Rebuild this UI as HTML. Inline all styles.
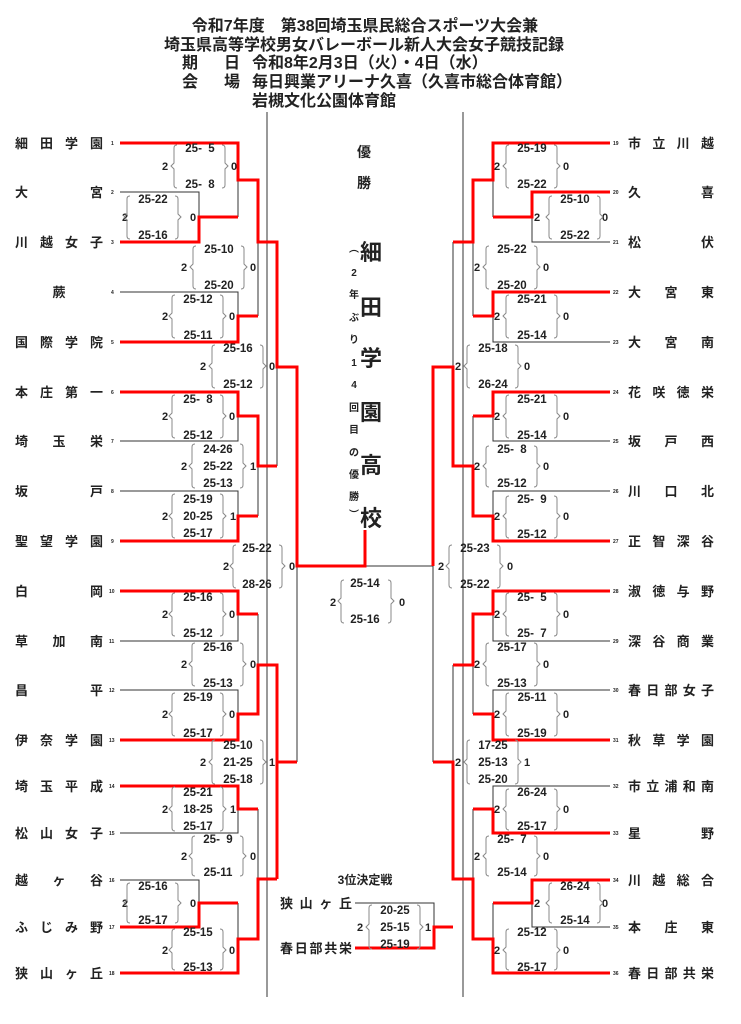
<!DOCTYPE html>
<html><head><meta charset="utf-8"><style>
html,body{margin:0;padding:0;background:#fff}
svg{display:block}
text{font-family:"Liberation Sans","Noto Sans CJK JP",sans-serif;font-weight:bold;fill:#222}
.s{font-size:11.5px;text-anchor:middle;white-space:pre}
.n{font-size:11px;text-anchor:middle}
.t{font-size:13px}
.sm{font-size:5px;fill:#444}
.h{font-size:16px}
.g{stroke:#333;stroke-width:1;fill:none}
.r{stroke:#f00;stroke-width:3;fill:none}
.b{stroke:#888;stroke-width:1;fill:none}
</style></head><body>
<svg width="741" height="1024" viewBox="0 0 741 1024" xmlns="http://www.w3.org/2000/svg">
<!-- header -->
<text class="h" x="365" y="31" text-anchor="middle">令和7年度　第38回埼玉県民総合スポーツ大会兼</text>
<text class="h" x="364" y="50" text-anchor="middle">埼玉県高等学校男女バレーボール新人大会女子競技記録</text>
<text class="h" x="182" y="68">期</text><text class="h" x="224" y="68">日</text>
<text class="h" x="252" y="68">令和8年2月3日（火）・4日（水）</text>
<text class="h" x="182" y="87">会</text><text class="h" x="224" y="87">場</text>
<text class="h" x="252" y="87">毎日興業アリーナ久喜（久喜市総合体育館）</text>
<text class="h" x="252" y="106">岩槻文化公園体育館</text>

<!-- borders -->
<line class="g" x1="267" y1="112" x2="267" y2="997"/>
<line class="g" x1="463" y1="112" x2="463" y2="997"/>

<!-- gray lines left -->
<polyline class="g" points="120,192 199,192 199,242"/>
<polyline class="g" points="120,292 238,292 238,342"/>
<polyline class="g" points="120,441 238,441 238,392"/>
<polyline class="g" points="120,491 238,491 238,541"/>
<polyline class="g" points="120,641 238,641 238,591"/>
<polyline class="g" points="120,690 238,690 238,740"/>
<polyline class="g" points="120,833 238,833 238,786"/>
<polyline class="g" points="120,880 199,880 199,927"/>
<line class="g" x1="238" y1="143" x2="238" y2="217"/>
<line class="g" x1="238" y1="903" x2="238" y2="973"/>
<line class="g" x1="258" y1="180" x2="258" y2="316"/>
<line class="g" x1="258" y1="416" x2="258" y2="516"/>
<line class="g" x1="258" y1="614" x2="258" y2="714"/>
<line class="g" x1="258" y1="809" x2="258" y2="939"/>
<line class="g" x1="277" y1="242" x2="277" y2="466"/>
<line class="g" x1="277" y1="665" x2="277" y2="879"/>
<line class="g" x1="297" y1="367" x2="297" y2="762"/>
<line class="g" x1="297" y1="566" x2="433" y2="566"/>
<!-- gray lines right -->
<polyline class="g" points="610,242 532,242 532,192"/>
<polyline class="g" points="610,342 493,342 493,292"/>
<polyline class="g" points="610,441 493,441 493,392"/>
<polyline class="g" points="610,491 493,491 493,541"/>
<polyline class="g" points="610,641 493,641 493,591"/>
<polyline class="g" points="610,690 493,690 493,740"/>
<polyline class="g" points="610,786 493,786 493,833"/>
<polyline class="g" points="610,927 532,927 532,880"/>
<line class="g" x1="493" y1="143" x2="493" y2="217"/>
<line class="g" x1="493" y1="903" x2="493" y2="973"/>
<line class="g" x1="473" y1="180" x2="473" y2="316"/>
<line class="g" x1="473" y1="416" x2="473" y2="516"/>
<line class="g" x1="473" y1="614" x2="473" y2="714"/>
<line class="g" x1="473" y1="809" x2="473" y2="939"/>
<line class="g" x1="453" y1="242" x2="453" y2="466"/>
<line class="g" x1="453" y1="665" x2="453" y2="879"/>
<line class="g" x1="433" y1="367" x2="433" y2="762"/>
<!-- third place gray -->
<polyline class="g" points="355,903 434,903 434,927"/>

<!-- red left -->
<polyline class="r" points="120,143 238,143 238,180 258,180 258,242 277,242 277,367 297,367 297,566 365,566 365,530"/>
<polyline class="r" points="120,242 199,242 199,217 238,217"/>
<polyline class="r" points="120,342 238,342 238,316 258,316"/>
<polyline class="r" points="120,392 238,392 238,416 258,416 258,466 277,466"/>
<polyline class="r" points="120,541 238,541 238,516 258,516"/>
<polyline class="r" points="120,591 238,591 238,614 258,614"/>
<polyline class="r" points="120,740 238,740 238,714 258,714 258,665 277,665 277,879"/>
<polyline class="r" points="277,762 297,762"/>
<polyline class="r" points="120,786 238,786 238,809 258,809"/>
<polyline class="r" points="120,927 199,927 199,903 238,903"/>
<polyline class="r" points="120,973 238,973 238,939 258,939 258,879 277,879"/>
<!-- red right -->
<polyline class="r" points="610,143 493,143 493,180 473,180 473,242 453,242"/>
<polyline class="r" points="610,192 532,192 532,217 493,217"/>
<polyline class="r" points="610,292 493,292 493,316 473,316"/>
<polyline class="r" points="610,392 493,392 493,416 473,416"/>
<polyline class="r" points="610,541 493,541 493,516 473,516 473,466 453,466 453,367 433,367 433,566"/>
<polyline class="r" points="610,591 493,591 493,614 473,614 473,665 453,665"/>
<polyline class="r" points="610,740 493,740 493,714 473,714"/>
<polyline class="r" points="610,833 493,833 493,809 473,809"/>
<polyline class="r" points="610,880 532,880 532,903 493,903"/>
<polyline class="r" points="610,973 493,973 493,939 473,939 473,879 453,879 453,762 433,762"/>
<polyline class="r" points="355,948 434,948 434,927 453,927"/>

<!-- left names -->
<g class="t">
<text x="15" y="148" textLength="88" lengthAdjust="spacing">細田学園</text>
<text x="15" y="197" textLength="88" lengthAdjust="spacing">大宮</text>
<text x="15" y="247" textLength="88" lengthAdjust="spacing">川越女子</text>
<text x="59" y="297" text-anchor="middle">蕨</text>
<text x="15" y="347" textLength="88" lengthAdjust="spacing">国際学院</text>
<text x="15" y="397" textLength="88" lengthAdjust="spacing">本庄第一</text>
<text x="15" y="446" textLength="88" lengthAdjust="spacing">埼玉栄</text>
<text x="15" y="496" textLength="88" lengthAdjust="spacing">坂戸</text>
<text x="15" y="546" textLength="88" lengthAdjust="spacing">聖望学園</text>
<text x="15" y="596" textLength="88" lengthAdjust="spacing">白岡</text>
<text x="15" y="646" textLength="88" lengthAdjust="spacing">草加南</text>
<text x="15" y="695" textLength="88" lengthAdjust="spacing">昌平</text>
<text x="15" y="745" textLength="88" lengthAdjust="spacing">伊奈学園</text>
<text x="15" y="791" textLength="88" lengthAdjust="spacing">埼玉平成</text>
<text x="15" y="838" textLength="88" lengthAdjust="spacing">松山女子</text>
<text x="15" y="885" textLength="88" lengthAdjust="spacing">越ヶ谷</text>
<text x="15" y="932" textLength="88" lengthAdjust="spacing">ふじみ野</text>
<text x="15" y="978" textLength="88" lengthAdjust="spacing">狭山ヶ丘</text>
</g>
<!-- right names -->
<g class="t">
<text x="628" y="148" textLength="86" lengthAdjust="spacing">市立川越</text>
<text x="628" y="197" textLength="86" lengthAdjust="spacing">久喜</text>
<text x="628" y="247" textLength="86" lengthAdjust="spacing">松伏</text>
<text x="628" y="297" textLength="86" lengthAdjust="spacing">大宮東</text>
<text x="628" y="347" textLength="86" lengthAdjust="spacing">大宮南</text>
<text x="628" y="397" textLength="86" lengthAdjust="spacing">花咲徳栄</text>
<text x="628" y="446" textLength="86" lengthAdjust="spacing">坂戸西</text>
<text x="628" y="496" textLength="86" lengthAdjust="spacing">川口北</text>
<text x="628" y="546" textLength="86" lengthAdjust="spacing">正智深谷</text>
<text x="628" y="596" textLength="86" lengthAdjust="spacing">淑徳与野</text>
<text x="628" y="646" textLength="86" lengthAdjust="spacing">深谷商業</text>
<text x="628" y="695" textLength="86" lengthAdjust="spacing">春日部女子</text>
<text x="628" y="745" textLength="86" lengthAdjust="spacing">秋草学園</text>
<text x="628" y="791" textLength="86" lengthAdjust="spacing">市立浦和南</text>
<text x="628" y="838" textLength="86" lengthAdjust="spacing">星野</text>
<text x="628" y="885" textLength="86" lengthAdjust="spacing">川越総合</text>
<text x="628" y="932" textLength="86" lengthAdjust="spacing">本庄東</text>
<text x="628" y="978" textLength="86" lengthAdjust="spacing">春日部共栄</text>
</g>
<!-- small seed numbers -->
<g class="sm">
<text x="111" y="145">1</text><text x="111" y="194">2</text><text x="111" y="244">3</text><text x="111" y="294">4</text><text x="111" y="344">5</text><text x="111" y="394">6</text><text x="111" y="443">7</text><text x="111" y="493">8</text><text x="111" y="543">9</text><text x="109" y="593">10</text><text x="109" y="643">11</text><text x="109" y="692">12</text><text x="109" y="742">13</text><text x="109" y="788">14</text><text x="109" y="835">15</text><text x="109" y="882">16</text><text x="109" y="929">17</text><text x="109" y="975">18</text>
<text x="613" y="145">19</text><text x="613" y="194">20</text><text x="613" y="244">21</text><text x="613" y="294">22</text><text x="613" y="344">23</text><text x="613" y="394">24</text><text x="613" y="443">25</text><text x="613" y="493">26</text><text x="613" y="543">27</text><text x="613" y="593">28</text><text x="613" y="643">29</text><text x="613" y="692">30</text><text x="613" y="742">31</text><text x="613" y="788">32</text><text x="613" y="835">33</text><text x="613" y="882">34</text><text x="613" y="929">35</text><text x="613" y="975">36</text>
</g>

<!-- center -->
<text x="364" y="157" font-size="14" text-anchor="middle">優</text>
<text x="364" y="188" font-size="14" text-anchor="middle">勝</text>
<g font-size="22" text-anchor="middle">
<text x="371" y="260">細</text><text x="371" y="315">田</text><text x="371" y="366">学</text><text x="371" y="420">園</text><text x="371" y="473">高</text><text x="371" y="526">校</text>
</g>
<g font-size="10" text-anchor="middle">
<text x="354" y="252">︵</text><text x="354" y="276">2</text><text x="354" y="298">年</text><text x="354" y="321">ぶ</text><text x="354" y="343">り</text><text x="354" y="366">1</text><text x="354" y="388">4</text><text x="354" y="411">回</text><text x="354" y="433">目</text><text x="354" y="456">の</text><text x="354" y="478">優</text><text x="354" y="500">勝</text><text x="354" y="518">︶</text>
</g>
<text x="365" y="884" font-size="12" text-anchor="middle">3位決定戦</text>
<text class="t" x="280" y="908" textLength="72" lengthAdjust="spacing">狭山ヶ丘</text>
<text class="t" x="280" y="953" textLength="72" lengthAdjust="spacing">春日部共栄</text>

<g id="scores">
<!-- LEFT -->
<text class="s" x="200" y="152">25-  5</text><text class="s" x="200" y="188">25-  8</text><text class="n" x="165" y="170">2</text><text class="n" x="234" y="170">0</text>
<path class="b" d="M177 145Q174 145 174 148L174 163L171 166L174 169L174 185Q174 188 177 188M222 145Q225 145 225 148L225 163L228 166L225 169L225 185Q225 188 222 188"/>
<text class="s" x="153" y="203">25-22</text><text class="s" x="153" y="239">25-16</text><text class="n" x="125" y="221">2</text><text class="n" x="193" y="221">0</text>
<path class="b" d="M130 196Q127 196 127 199L127 214L124 217L127 220L127 236Q127 239 130 239M175 196Q178 196 178 199L178 214L181 217L178 220L178 236Q178 239 175 239"/>
<text class="s" x="219" y="253">25-10</text><text class="s" x="219" y="289">25-20</text><text class="n" x="184" y="271">2</text><text class="n" x="253" y="271">0</text>
<path class="b" d="M196 246Q193 246 193 249L193 264L190 267L193 270L193 286Q193 289 196 289M241 246Q244 246 244 249L244 264L247 267L244 270L244 286Q244 289 241 289"/>
<text class="s" x="198" y="303">25-12</text><text class="s" x="198" y="339">25-11</text><text class="n" x="165" y="320">2</text><text class="n" x="232" y="320">0</text>
<path class="b" d="M175 295Q172 295 172 298L172 313L169 316L172 319L172 335Q172 338 175 338M220 295Q223 295 223 298L223 313L226 316L223 319L223 335Q223 338 220 338"/>
<text class="s" x="238" y="352">25-16</text><text class="s" x="238" y="388">25-12</text><text class="n" x="203" y="370">2</text><text class="n" x="272" y="370">0</text>
<path class="b" d="M215 345Q212 345 212 348L212 363L209 366L212 369L212 385Q212 388 215 388M260 345Q263 345 263 348L263 363L266 366L263 369L263 385Q263 388 260 388"/>
<text class="s" x="198" y="403">25-  8</text><text class="s" x="198" y="439">25-12</text><text class="n" x="165" y="420">2</text><text class="n" x="232" y="420">0</text>
<path class="b" d="M175 395Q172 395 172 398L172 413L169 416L172 419L172 435Q172 438 175 438M220 395Q223 395 223 398L223 413L226 416L223 419L223 435Q223 438 220 438"/>
<text class="s" x="218" y="453">24-26</text><text class="s" x="218" y="470">25-22</text><text class="s" x="218" y="487">25-13</text><text class="n" x="184" y="470">2</text><text class="n" x="253" y="470">1</text>
<path class="b" d="M195 444Q192 444 192 447L192 463L189 466L192 469L192 485Q192 488 195 488M240 444Q243 444 243 447L243 463L246 466L243 469L243 485Q243 488 240 488"/>
<text class="s" x="198" y="503">25-19</text><text class="s" x="198" y="520">20-25</text><text class="s" x="198" y="537">25-17</text><text class="n" x="165" y="520">2</text><text class="n" x="233" y="520">1</text>
<path class="b" d="M175 494Q172 494 172 497L172 513L169 516L172 519L172 535Q172 538 175 538M220 494Q223 494 223 497L223 513L226 516L223 519L223 535Q223 538 220 538"/>
<text class="s" x="257" y="552">25-22</text><text class="s" x="257" y="588">28-26</text><text class="n" x="226" y="570">2</text><text class="n" x="292" y="570">0</text>
<path class="b" d="M236 545Q233 545 233 548L233 563L230 566L233 569L233 585Q233 588 236 588M279 545Q282 545 282 548L282 563L285 566L282 569L282 585Q282 588 279 588"/>
<text class="s" x="198" y="601">25-16</text><text class="s" x="198" y="637">25-12</text><text class="n" x="165" y="618">2</text><text class="n" x="232" y="618">0</text>
<path class="b" d="M175 593Q172 593 172 596L172 611L169 614L172 617L172 633Q172 636 175 636M220 593Q223 593 223 596L223 611L226 614L223 617L223 633Q223 636 220 636"/>
<text class="s" x="218" y="651">25-16</text><text class="s" x="218" y="687">25-13</text><text class="n" x="184" y="668">2</text><text class="n" x="253" y="668">0</text>
<path class="b" d="M195 643Q192 643 192 646L192 661L189 664L192 667L192 683Q192 686 195 686M240 643Q243 643 243 646L243 661L246 664L243 667L243 683Q243 686 240 686"/>
<text class="s" x="198" y="701">25-19</text><text class="s" x="198" y="737">25-17</text><text class="n" x="165" y="718">2</text><text class="n" x="232" y="718">0</text>
<path class="b" d="M175 693Q172 693 172 696L172 711L169 714L172 717L172 733Q172 736 175 736M220 693Q223 693 223 696L223 711L226 714L223 717L223 733Q223 736 220 736"/>
<text class="s" x="238" y="749">25-10</text><text class="s" x="238" y="766">21-25</text><text class="s" x="238" y="783">25-18</text><text class="n" x="203" y="766">2</text><text class="n" x="272" y="766">1</text>
<path class="b" d="M215 740Q212 740 212 743L212 759L209 762L212 765L212 781Q212 784 215 784M260 740Q263 740 263 743L263 759L266 762L263 765L263 781Q263 784 260 784"/>
<text class="s" x="198" y="796">25-21</text><text class="s" x="198" y="813">18-25</text><text class="s" x="198" y="830">25-17</text><text class="n" x="165" y="813">2</text><text class="n" x="233" y="813">1</text>
<path class="b" d="M175 787Q172 787 172 790L172 806L169 809L172 812L172 828Q172 831 175 831M220 787Q223 787 223 790L223 806L226 809L223 812L223 828Q223 831 220 831"/>
<text class="s" x="218" y="843">25-  9</text><text class="s" x="218" y="876">25-11</text><text class="n" x="184" y="860">2</text><text class="n" x="253" y="860">0</text>
<path class="b" d="M195 836Q192 836 192 839L192 853L189 856L192 859L192 873Q192 876 195 876M240 836Q243 836 243 839L243 853L246 856L243 859L243 873Q243 876 240 876"/>
<text class="s" x="153" y="890">25-16</text><text class="s" x="153" y="924">25-17</text><text class="n" x="125" y="907">2</text><text class="n" x="193" y="907">0</text>
<path class="b" d="M130 883Q127 883 127 886L127 900L124 903L127 906L127 920Q127 923 130 923M175 883Q178 883 178 886L178 900L181 903L178 906L178 920Q178 923 175 923"/>
<text class="s" x="198" y="936">25-15</text><text class="s" x="198" y="971">25-13</text><text class="n" x="165" y="954">2</text><text class="n" x="232" y="954">0</text>
<path class="b" d="M175 929Q172 929 172 932L172 947L169 950L172 953L172 967Q172 970 175 970M220 929Q223 929 223 932L223 947L226 950L223 953L223 967Q223 970 220 970"/>

<!-- RIGHT -->
<text class="s" x="532" y="152">25-19</text><text class="s" x="532" y="188">25-22</text><text class="n" x="497" y="170">2</text><text class="n" x="566" y="170">0</text>
<path class="b" d="M509 145Q506 145 506 148L506 163L503 166L506 169L506 185Q506 188 509 188M554 145Q557 145 557 148L557 163L560 166L557 169L557 185Q557 188 554 188"/>
<text class="s" x="575" y="203">25-10</text><text class="s" x="575" y="239">25-22</text><text class="n" x="537" y="221">2</text><text class="n" x="605" y="221">0</text>
<path class="b" d="M552 196Q549 196 549 199L549 214L546 217L549 220L549 236Q549 239 552 239M597 196Q600 196 600 199L600 214L603 217L600 220L600 236Q600 239 597 239"/>
<text class="s" x="512" y="253">25-22</text><text class="s" x="512" y="289">25-20</text><text class="n" x="477" y="271">2</text><text class="n" x="546" y="271">0</text>
<path class="b" d="M489 246Q486 246 486 249L486 264L483 267L486 270L486 286Q486 289 489 289M534 246Q537 246 537 249L537 264L540 267L537 270L537 286Q537 289 534 289"/>
<text class="s" x="532" y="303">25-21</text><text class="s" x="532" y="339">25-14</text><text class="n" x="497" y="320">2</text><text class="n" x="566" y="320">0</text>
<path class="b" d="M509 295Q506 295 506 298L506 313L503 316L506 319L506 335Q506 338 509 338M554 295Q557 295 557 298L557 313L560 316L557 319L557 335Q557 338 554 338"/>
<text class="s" x="493" y="352">25-18</text><text class="s" x="493" y="388">26-24</text><text class="n" x="458" y="370">2</text><text class="n" x="527" y="370">0</text>
<path class="b" d="M470 345Q467 345 467 348L467 363L464 366L467 369L467 385Q467 388 470 388M515 345Q518 345 518 348L518 363L521 366L518 369L518 385Q518 388 515 388"/>
<text class="s" x="532" y="403">25-21</text><text class="s" x="532" y="439">25-14</text><text class="n" x="497" y="420">2</text><text class="n" x="566" y="420">0</text>
<path class="b" d="M509 395Q506 395 506 398L506 413L503 416L506 419L506 435Q506 438 509 438M554 395Q557 395 557 398L557 413L560 416L557 419L557 435Q557 438 554 438"/>
<text class="s" x="512" y="453">25-  8</text><text class="s" x="512" y="487">25-12</text><text class="n" x="477" y="470">2</text><text class="n" x="546" y="470">0</text>
<path class="b" d="M489 446Q486 446 486 449L486 463L483 466L486 469L486 484Q486 487 489 487M534 446Q537 446 537 449L537 463L540 466L537 469L537 484Q537 487 534 487"/>
<text class="s" x="532" y="503">25-  9</text><text class="s" x="532" y="538">25-12</text><text class="n" x="497" y="520">2</text><text class="n" x="566" y="520">0</text>
<path class="b" d="M509 496Q506 496 506 499L506 513L503 516L506 519L506 535Q506 538 509 538M554 496Q557 496 557 499L557 513L560 516L557 519L557 535Q557 538 554 538"/>
<text class="s" x="475" y="552">25-23</text><text class="s" x="475" y="588">25-22</text><text class="n" x="441" y="570">2</text><text class="n" x="510" y="570">0</text>
<path class="b" d="M452 545Q449 545 449 548L449 563L446 566L449 569L449 585Q449 588 452 588M497 545Q500 545 500 548L500 563L503 566L500 569L500 585Q500 588 497 588"/>
<text class="s" x="532" y="601">25-  5</text><text class="s" x="532" y="637">25-  7</text><text class="n" x="497" y="618">2</text><text class="n" x="566" y="618">0</text>
<path class="b" d="M509 593Q506 593 506 596L506 611L503 614L506 617L506 633Q506 636 509 636M554 593Q557 593 557 596L557 611L560 614L557 617L557 633Q557 636 554 636"/>
<text class="s" x="512" y="651">25-17</text><text class="s" x="512" y="687">25-13</text><text class="n" x="477" y="668">2</text><text class="n" x="546" y="668">0</text>
<path class="b" d="M489 643Q486 643 486 646L486 661L483 664L486 667L486 683Q486 686 489 686M534 643Q537 643 537 646L537 661L540 664L537 667L537 683Q537 686 534 686"/>
<text class="s" x="532" y="701">25-11</text><text class="s" x="532" y="737">25-19</text><text class="n" x="497" y="718">2</text><text class="n" x="566" y="718">0</text>
<path class="b" d="M509 693Q506 693 506 696L506 711L503 714L506 717L506 733Q506 736 509 736M554 693Q557 693 557 696L557 711L560 714L557 717L557 733Q557 736 554 736"/>
<text class="s" x="493" y="749">17-25</text><text class="s" x="493" y="766">25-13</text><text class="s" x="493" y="783">25-20</text><text class="n" x="458" y="766">2</text><text class="n" x="527" y="766">1</text>
<path class="b" d="M470 740Q467 740 467 743L467 759L464 762L467 765L467 781Q467 784 470 784M515 740Q518 740 518 743L518 759L521 762L518 765L518 781Q518 784 515 784"/>
<text class="s" x="532" y="796">26-24</text><text class="s" x="532" y="830">25-17</text><text class="n" x="497" y="813">2</text><text class="n" x="566" y="813">0</text>
<path class="b" d="M509 789Q506 789 506 792L506 806L503 809L506 812L506 827Q506 830 509 830M554 789Q557 789 557 792L557 806L560 809L557 812L557 827Q557 830 554 830"/>
<text class="s" x="512" y="843">25-  7</text><text class="s" x="512" y="876">25-14</text><text class="n" x="477" y="860">2</text><text class="n" x="546" y="860">0</text>
<path class="b" d="M489 836Q486 836 486 839L486 853L483 856L486 859L486 873Q486 876 489 876M534 836Q537 836 537 839L537 853L540 856L537 859L537 873Q537 876 534 876"/>
<text class="s" x="575" y="890">26-24</text><text class="s" x="575" y="924">25-14</text><text class="n" x="537" y="907">2</text><text class="n" x="605" y="907">0</text>
<path class="b" d="M552 883Q549 883 549 886L549 900L546 903L549 906L549 920Q549 923 552 923M597 883Q600 883 600 886L600 900L603 903L600 906L600 920Q600 923 597 923"/>
<text class="s" x="532" y="936">25-12</text><text class="s" x="532" y="971">25-17</text><text class="n" x="497" y="954">2</text><text class="n" x="566" y="954">0</text>
<path class="b" d="M509 929Q506 929 506 932L506 947L503 950L506 953L506 967Q506 970 509 970M554 929Q557 929 557 932L557 947L560 950L557 953L557 967Q557 970 554 970"/>

<!-- final -->
<text class="s" x="365" y="587">25-14</text><text class="s" x="365" y="623">25-16</text><text class="n" x="333" y="606">2</text><text class="n" x="402" y="606">0</text>
<path class="b" d="M344 580Q341 580 341 583L341 598L338 601L341 604L341 620Q341 623 344 623M388 580Q391 580 391 583L391 598L394 601L391 604L391 620Q391 623 388 623"/>
<!-- third place -->
<text class="s" x="395" y="914">20-25</text><text class="s" x="395" y="931">25-15</text><text class="s" x="395" y="948">25-19</text><text class="n" x="360" y="931">2</text><text class="n" x="428" y="931">1</text>
<path class="b" d="M372 905Q369 905 369 908L369 924L366 927L369 930L369 946Q369 949 372 949M417 905Q420 905 420 908L420 924L423 927L420 930L420 946Q420 949 417 949"/>
</g>
</svg>
</body></html>
